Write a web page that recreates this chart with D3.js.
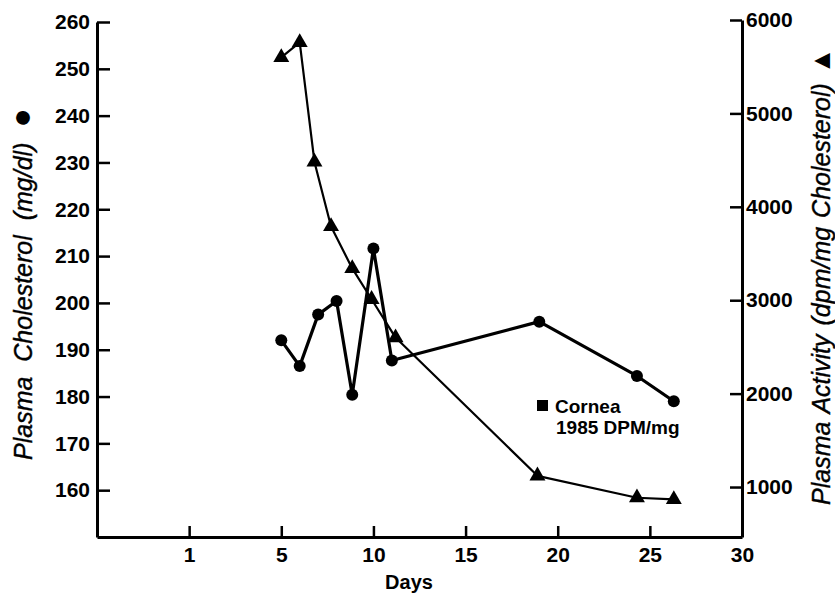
<!DOCTYPE html>
<html>
<head>
<meta charset="utf-8">
<script src="https://cdn.jsdelivr.net/npm/d3@7"></script>
<style>
  html, body { margin: 0; padding: 0; background: #fff; }
  svg { display: block; }
  .tick text { font-family: "Liberation Sans", Arial, sans-serif; font-weight: bold; fill: #000; }
</style>
</head>
<body>
<svg id="chart" width="835" height="596"></svg>
<script>
// ---- data ----
const cholDays   = [5, 6, 7, 8, 8.85, 10, 11, 19, 24.3, 26.3];
const cholValues = [192, 186.5, 197.5, 200.4, 180.4, 211.6, 187.7, 196, 184.4, 179];

const actDays    = [5, 6, 6.8, 7.7, 8.85, 9.9, 11.2, 18.9, 24.3, 26.3];
const actValues  = [5600, 5760, 4480, 3790, 3340, 3010, 2600, 1120, 885, 868];

const xTickValues = [0, 5, 10, 15, 20, 25, 30];
const xTickLabels = ["1", "5", "10", "15", "20", "25", "30"];
const leftTicks   = [160, 170, 180, 190, 200, 210, 220, 230, 240, 250, 260];
const rightTicks  = [1000, 2000, 3000, 4000, 5000, 6000];

const xTitle = "Days";
const leftTitle = "Plasma Cholesterol (mg/dl)";
const leftSymbol = "\u25CF";
const rightTitle = "Plasma Activity (dpm/mg Cholesterol)";
const rightSymbol = "\u25B2";
const noteLines = ["Cornea", "1985 DPM/mg"];

// ---- layout ----
const svg = d3.select("#chart");
const left = 97, right = 742, bottom = 537;
const FONT = "Liberation Sans, Arial, sans-serif";

const x = d3.scaleLinear().domain([-5, 30]).range([left, right]);
const yL = d3.scaleLinear().domain([150, 260]).range([bottom, 22]);
const yR = d3.scaleLinear().domain([465, 6000]).range([bottom, 20]);

// axes
const gx = svg.append("g").attr("transform", `translate(0,${bottom})`)
  .call(d3.axisBottom(x).tickValues(xTickValues)
    .tickFormat((d, i) => xTickLabels[i]).tickSizeInner(-11).tickSizeOuter(0).tickPadding(10));
const gl = svg.append("g").attr("transform", `translate(${left},0)`)
  .call(d3.axisLeft(yL).tickValues(leftTicks).tickFormat(d3.format("d"))
    .tickSizeInner(-13).tickSizeOuter(0).tickPadding(7));
const gr = svg.append("g").attr("transform", `translate(${right},0)`)
  .call(d3.axisRight(yR).tickValues(rightTicks).tickFormat(d3.format("d"))
    .tickSizeInner(-12).tickSizeOuter(0).tickPadding(4));

[gx, gl, gr].forEach(g => {
  g.select(".domain").attr("stroke", "#000").attr("stroke-width", 3);
  g.selectAll(".tick line").attr("stroke", "#000").attr("stroke-width", 2.5);
  g.selectAll(".tick text").attr("font-size", 21);
});
gx.selectAll(".tick").filter(d => d === 30).select("line").remove();

// lines
const lineC = d3.line().x((d, i) => x(cholDays[i])).y(d => yL(d));
const lineA = d3.line().x((d, i) => x(actDays[i])).y(d => yR(d));

svg.append("path").datum(actValues).attr("d", lineA)
  .attr("fill", "none").attr("stroke", "#000").attr("stroke-width", 2.2).attr("stroke-linejoin", "round");
svg.append("path").datum(cholValues).attr("d", lineC)
  .attr("fill", "none").attr("stroke", "#000").attr("stroke-width", 3.2).attr("stroke-linejoin", "round");

// markers
svg.append("g").selectAll("circle").data(cholValues).join("circle")
  .attr("cx", (d, i) => x(cholDays[i])).attr("cy", d => yL(d)).attr("r", 6).attr("fill", "#000");

const tri = d3.symbol().type(d3.symbolTriangle).size(110);
svg.append("g").selectAll("path").data(actValues).join("path")
  .attr("d", tri)
  .attr("transform", (d, i) => `translate(${x(actDays[i])},${yR(d)})`)
  .attr("fill", "#000");

// titles
svg.append("text").attr("x", 409).attr("y", 589).attr("text-anchor", "middle")
  .attr("font-family", FONT).attr("font-weight", "bold")
  .attr("font-size", 20).text(xTitle);

const lt = svg.append("text").attr("transform", "translate(32,460) rotate(-90)")
  .attr("font-family", FONT).attr("font-style", "italic")
  .attr("font-size", 25).attr("word-spacing", 8)
  .attr("stroke", "#000").attr("stroke-width", 0.4);
lt.append("tspan").text(leftTitle + " ");
lt.append("tspan").attr("font-size", 32).attr("font-style", "normal").attr("stroke", "none").text(leftSymbol);

const rt = svg.append("text").attr("transform", "translate(830,505) rotate(-90)")
  .attr("font-family", FONT).attr("font-style", "italic")
  .attr("font-size", 25).attr("word-spacing", 2)
  .attr("stroke", "#000").attr("stroke-width", 0.4);
rt.append("tspan").text(rightTitle + " ");
rt.append("tspan").attr("font-size", 27).attr("font-style", "normal").attr("stroke", "none").text(rightSymbol);

// note
svg.append("rect").attr("x", 537).attr("y", 400).attr("width", 11).attr("height", 11).attr("fill", "#000");
svg.append("text").attr("x", 555).attr("y", 413)
  .attr("font-family", FONT).attr("font-weight", "bold")
  .attr("font-size", 19).text(noteLines[0]);
svg.append("text").attr("x", 556).attr("y", 434)
  .attr("font-family", FONT).attr("font-weight", "bold")
  .attr("font-size", 19).text(noteLines[1]);
</script>
</body>
</html>
